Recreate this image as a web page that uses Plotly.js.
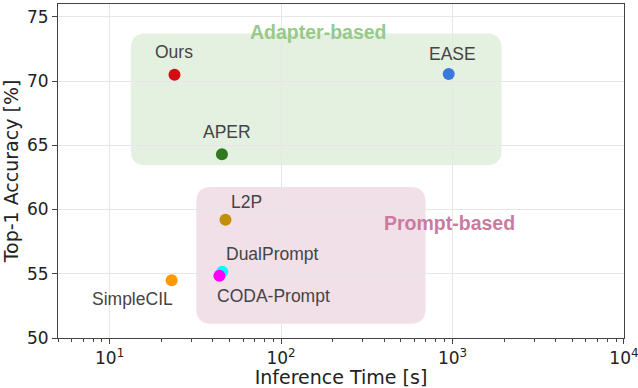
<!DOCTYPE html>
<html>
<head>
<meta charset="utf-8">
<script src="https://cdn.plot.ly/plotly-3.0.1.min.js"></script>
<style>
  body { margin: 0; background: #fff; }
  #chart { width: 638px; height: 388px; }
</style>
</head>
<body>
<div id="chart"></div>
<script>
// methods, inference time (s) and top-1 accuracy (%)
var methods = ["Ours", "EASE", "APER", "L2P", "DualPrompt", "CODA-Prompt", "SimpleCIL"];
var inferTime = [23.9, 950, 45.2, 47.4, 45.4, 43.7, 23.0];
var accuracy = [70.5, 70.55, 64.3, 59.2, 55.15, 54.85, 54.5];
var colors = ["#d40d12", "#3b78dc", "#2f7a1f", "#c28f0c", "#00ffff", "#ff00ff", "#ff9a05"];
// label offsets in pixels (x, y)
var labelDx = [0, 4, 5, 21, 50, 54, -39];
var labelDy = [23, 20, 22, 18, 18, -20, -19];

// group boxes: [xmin, xmax, ymin, ymax]
var adapterBox = [13.3, 1930, 63.45, 73.7];
var promptBox = [32, 696, 51.1, 61.75];

var xRange = [Math.log10(5), 4.0002];
var yRange = [50, 76];
var plotW = 566, plotH = 334;

function toPaperX(v) { return (Math.log10(v) - xRange[0]) / (xRange[1] - xRange[0]); }
function toPaperY(v) { return (v - yRange[0]) / (yRange[1] - yRange[0]); }

// rounded rectangle path in paper coords
function roundBox(b, r) {
  var x0 = toPaperX(b[0]), x1 = toPaperX(b[1]);
  var y0 = toPaperY(b[2]), y1 = toPaperY(b[3]);
  var rx = r / plotW, ry = r / plotH;
  return "M" + (x0 + rx) + "," + y0 +
    " L" + (x1 - rx) + "," + y0 +
    " Q" + x1 + "," + y0 + " " + x1 + "," + (y0 + ry) +
    " L" + x1 + "," + (y1 - ry) +
    " Q" + x1 + "," + y1 + " " + (x1 - rx) + "," + y1 +
    " L" + (x0 + rx) + "," + y1 +
    " Q" + x0 + "," + y1 + " " + x0 + "," + (y1 - ry) +
    " L" + x0 + "," + (y0 + ry) +
    " Q" + x0 + "," + y0 + " " + (x0 + rx) + "," + y0 + " Z";
}

var trace = {
  x: inferTime,
  y: accuracy,
  mode: "markers",
  type: "scatter",
  marker: { color: colors, size: 12 },
  hoverinfo: "skip"
};

var labels = methods.map(function(m, i) {
  return {
    x: Math.log10(inferTime[i]), y: accuracy[i], xref: "x", yref: "y",
    text: m, showarrow: false,
    xshift: labelDx[i], yshift: labelDy[i],
    font: { family: "Liberation Sans, Arial", size: 17.5, color: "#444" }
  };
});

labels.push({
  x: Math.log10(166), y: 73.85, xref: "x", yref: "y",
  text: "<b>Adapter-based</b>", showarrow: false,
  font: { family: "Liberation Sans, Arial", size: 19.5, color: "#97c98a" }
});
labels.push({
  x: Math.log10(960), y: 58.95, xref: "x", yref: "y",
  text: "<b>Prompt-based</b>", showarrow: false,
  font: { family: "Liberation Sans, Arial", size: 19.5, color: "#c97b9f" }
});

var layout = {
  width: 638,
  height: 388,
  margin: { l: 58, r: 14, t: 4, b: 50 },
  paper_bgcolor: "#fff",
  plot_bgcolor: "#fff",
  showlegend: false,
  font: { family: "DejaVu Sans", color: "#222" },
  xaxis: {
    type: "log",
    range: xRange,
    title: { text: "Inference Time [s]", font: { size: 19 }, standoff: 6 },
    tickvals: [10, 100, 1000, 10000],
    ticktext: ["10<sup>1</sup>", "10<sup>2</sup>", "10<sup>3</sup>", "10<sup>4</sup>"],
    tickfont: { size: 17 },
    ticklabeloverflow: "allow",
    ticks: "outside", ticklen: 5, tickcolor: "#444",
    minor: { dtick: "D1", ticks: "outside", ticklen: 3, tickcolor: "#444", showgrid: false },
    showgrid: true, gridcolor: "#e6e6e6", gridwidth: 1,
    showline: true, linecolor: "#444", linewidth: 1, mirror: true,
    zeroline: false
  },
  yaxis: {
    range: yRange,
    title: { text: "Top-1 Accuracy [%]", font: { size: 19 }, standoff: 6 },
    tickvals: [50, 55, 60, 65, 70, 75],
    tickfont: { size: 17 },
    ticks: "outside", ticklen: 5, tickcolor: "#444",
    showgrid: true, gridcolor: "#e6e6e6", gridwidth: 1,
    showline: true, linecolor: "#444", linewidth: 1, mirror: true,
    zeroline: false
  },
  shapes: [
    {
      type: "path", xref: "paper", yref: "paper", layer: "between",
      path: roundBox(adapterBox, 15),
      fillcolor: "rgba(120,180,100,0.2)", line: { width: 0 }
    },
    {
      type: "path", xref: "paper", yref: "paper", layer: "between",
      path: roundBox(promptBox, 15),
      fillcolor: "rgba(195,115,155,0.22)", line: { width: 0 }
    }
  ],
  annotations: labels
};

Plotly.newPlot("chart", [trace], layout, { displayModeBar: false, staticPlot: true });
</script>
</body>
</html>
